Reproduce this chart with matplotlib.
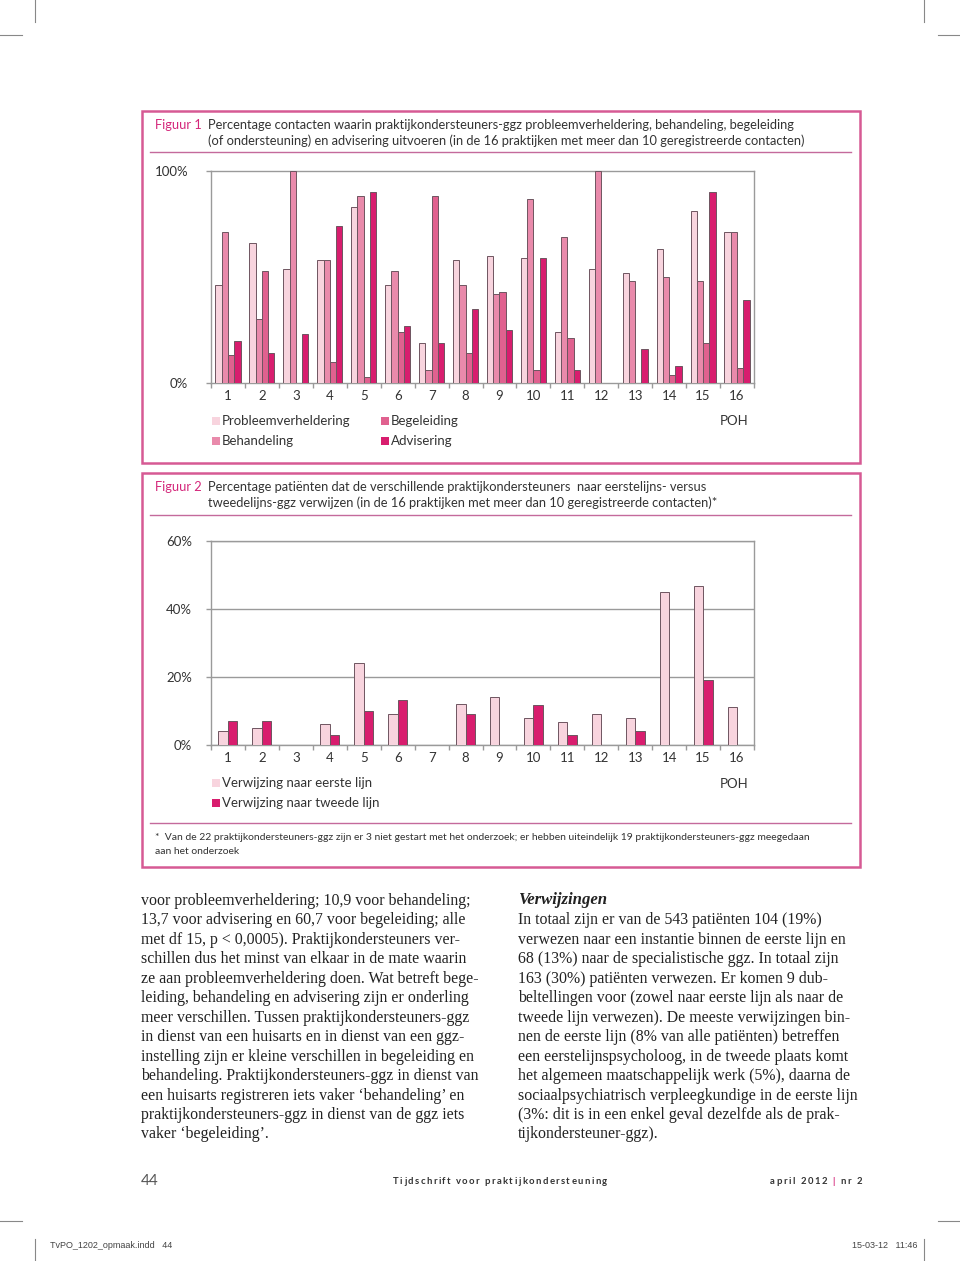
import matplotlib
matplotlib.use('Agg')
import matplotlib.pyplot as plt
from matplotlib.patches import Rectangle
from matplotlib.lines import Line2D
import numpy as np

# ---------------- data ----------------
practices = [str(i) for i in range(1, 17)]
series1_names = ['Probleemverheldering', 'Behandeling', 'Begeleiding', 'Advisering']
probleem = [46, 66, 54, 58, 83, 46, 19, 58, 60, 59, 24, 54, 52, 63, 81, 71]
behandeling = [71, 30, 100, 58, 88, 53, 6, 46, 42, 87, 69, 100, 48, 50, 48, 71]
begeleiding = [13, 53, 0, 10, 3, 24, 88, 14, 43, 6, 21, 0, 0, 4, 19, 7]
advisering = [20, 14, 23, 74, 90, 27, 19, 35, 25, 59, 6, 0, 16, 8, 90, 39]
y1_ticks = [0, 100]
y1_labels = ['0%', '100%']

series2_names = ['Verwijzing naar eerste lijn', 'Verwijzing naar tweede lijn']
eerste = [4.2, 4.9, 0, 6.1, 24.0, 9.1, 0, 12.1, 14.0, 7.9, 6.9, 9.1, 7.9, 44.9, 46.9, 11.1]
tweede = [7.0, 7.0, 0, 3.0, 10.0, 13.1, 0, 9.1, 0, 11.9, 3.0, 0, 4.1, 0, 19.1, 0]
y2_ticks = [0, 20, 40, 60]
y2_labels = ['0%', '20%', '40%', '60%']

fig1_title = ['Percentage contacten waarin praktijkondersteuners-ggz probleemverheldering, behandeling, begeleiding',
              '(of ondersteuning) en advisering uitvoeren (in de 16 praktijken met meer dan 10 geregistreerde contacten)']
fig2_title = ['Percentage patiënten dat de verschillende praktijkondersteuners  naar eerstelijns- versus',
              'tweedelijns-ggz verwijzen (in de 16 praktijken met meer dan 10 geregistreerde contacten)*']
footnote = ['*  Van de 22 praktijkondersteuners-ggz zijn er 3 niet gestart met het onderzoek; er hebben uiteindelijk 19 praktijkondersteuners-ggz meegedaan',
            'aan het onderzoek']
left_col = ['voor probleemverheldering; 10,9 voor behandeling;',
            '13,7 voor advisering en 60,7 voor begeleiding; alle',
            'met df 15, p < 0,0005). Praktijkondersteuners ver-',
            'schillen dus het minst van elkaar in de mate waarin',
            'ze aan probleemverheldering doen. Wat betreft bege-',
            'leiding, behandeling en advisering zijn er onderling',
            'meer verschillen. Tussen praktijkondersteuners-ggz',
            'in dienst van een huisarts en in dienst van een ggz-',
            'instelling zijn er kleine verschillen in begeleiding en',
            'behandeling. Praktijkondersteuners-ggz in dienst van',
            'een huisarts registreren iets vaker ‘behandeling’ en',
            'praktijkondersteuners-ggz in dienst van de ggz iets',
            'vaker ‘begeleiding’.']
right_head = 'Verwijzingen'
right_col = ['In totaal zijn er van de 543 patiënten 104 (19%)',
             'verwezen naar een instantie binnen de eerste lijn en',
             '68 (13%) naar de specialistische ggz. In totaal zijn',
             '163 (30%) patiënten verwezen. Er komen 9 dub-',
             'beltellingen voor (zowel naar eerste lijn als naar de',
             'tweede lijn verwezen). De meeste verwijzingen bin-',
             'nen de eerste lijn (8% van alle patiënten) betreffen',
             'een eerstelijnspsycholoog, in de tweede plaats komt',
             'het algemeen maatschappelijk werk (5%), daarna de',
             'sociaalpsychiatrisch verpleegkundige in de eerste lijn',
             '(3%: dit is in een enkel geval dezelfde als de prak-',
             'tijkondersteuner-ggz).']
foot_title = 'Tijdschrift voor praktijkondersteuning'
foot_issue = ['april 2012 ', '|', ' nr 2']

# ---------------- styling ----------------
W, H = 960, 1261
SANS = 'Lato'
SERIF = 'Liberation Serif'
MAGENTA = '#d4267a'
BORDER = '#d65a94'
RULE = '#c46a9c'
c_prob, c_beh, c_beg, c_adv = '#f8d4de', '#e98aab', '#e0618f', '#d81d6e'
EDGE = '#6e5560'
AXC = '#9a9a9a'
TXT = '#333333'

fig = plt.figure(figsize=(W / 100, H / 100), dpi=100)
fig.patch.set_facecolor('white')

def fx(x):
    return x / W

def fy(y):
    return 1 - y / H

renderer = fig.canvas.get_renderer()

def text_w(text, family, size, **kw):
    t = fig.text(0, 0, text, fontsize=size, family=family, **kw)
    w = t.get_window_extent(renderer).width
    t.remove()
    return w

def fit_size(text, family, target_px, base=10, **kw):
    return base * target_px / text_w(text, family, base, **kw)

def spaced_text(x0, x1, y, parts, family, size, **kw):
    """Draw letter-spaced text (list of (string, color)) filling x0..x1."""
    chars = [(ch, col) for s, col in parts for ch in s]
    full = ''.join(c for c, _ in chars)
    total = text_w(full, family, size, **kw)
    gap = (x1 - x0 - total) / (len(chars) - 1)
    for k, (c, col) in enumerate(chars):
        if c == ' ':
            continue
        left = text_w(full[:k + 1], family, size, **kw) - text_w(c, family, size, **kw)
        fig.text(fx(x0 + left + k * gap), fy(y), c, fontsize=size, family=family,
                 color=col, va='center', **kw)

def line(x0, y0, x1, y1, color, lw=1.0):
    fig.add_artist(Line2D([fx(x0), fx(x1)], [fy(y0), fy(y1)], transform=fig.transFigure,
                          color=color, lw=lw))

def box(x0, y0, x1, y1, color, lw=1.8):
    fig.add_artist(Rectangle((fx(x0), fy(y1)), (x1 - x0) / W, (y1 - y0) / H,
                             transform=fig.transFigure, fill=False, ec=color, lw=lw))

def square(x, y, size, color):
    fig.add_artist(Rectangle((fx(x), fy(y + size / 2)), size / W, size / H,
                             transform=fig.transFigure, fc=color, ec='none'))

# ---------------- crop marks ----------------
CM = '#888888'
for x in (35, 924):
    line(x, 0, x, 22, CM, 0.8)
    line(x, 1239, x, 1261, CM, 0.8)
for (a, b) in ((0, 22), (938, 960)):
    line(a, 35, b, 35, CM, 0.8)
    line(a, 1221, b, 1221, CM, 0.8)

# ---------------- frames ----------------
box(142, 111, 860, 463, BORDER)
box(142, 473, 860, 867, BORDER)
line(150, 152, 851, 152, RULE, 1.0)
line(150, 515, 851, 515, RULE, 1.0)
line(150, 823, 851, 823, RULE, 1.0)

title_fs = fit_size(fig1_title[0], SANS, 591)
fig.text(fx(155), fy(125), 'Figuur 1', color=MAGENTA, fontsize=title_fs, family=SANS, va='center')
fig.text(fx(208), fy(125), fig1_title[0], color=TXT, fontsize=title_fs, family=SANS, va='center')
fig.text(fx(208), fy(141), fig1_title[1], color=TXT, fontsize=title_fs, family=SANS, va='center')
fig.text(fx(155), fy(487), 'Figuur 2', color=MAGENTA, fontsize=title_fs, family=SANS, va='center')
fig.text(fx(208), fy(487), fig2_title[0], color=TXT, fontsize=title_fs, family=SANS, va='center')
fig.text(fx(208), fy(503), fig2_title[1], color=TXT, fontsize=title_fs, family=SANS, va='center')

fn_fs = fit_size(footnote[0], SANS, 657)
fig.text(fx(155), fy(838), footnote[0], color=TXT, fontsize=fn_fs, family=SANS, va='center')
fig.text(fx(155), fy(851), footnote[1], color=TXT, fontsize=fn_fs, family=SANS, va='center')

TICK_FS = 9.5

def style_axes(ax, yticks, ylabels, ypad):
    for s in ax.spines.values():
        s.set_color(AXC)
        s.set_linewidth(1.0)
    ax.set_xlim(0.5, 16.5)
    ax.set_yticks(yticks)
    ax.set_yticklabels(ylabels, family=SANS, fontsize=TICK_FS, color=TXT)
    ax.tick_params(axis='y', length=3.5, width=1, color=AXC, pad=ypad)
    ax.set_xticks(np.arange(0.5, 17, 1))
    ax.set_xticklabels([])
    ax.tick_params(axis='x', which='major', length=3.5, width=1, color=AXC)
    ax.set_xticks(np.arange(1, 17), minor=True)
    ax.set_xticklabels(practices, minor=True, family=SANS, fontsize=TICK_FS, color=TXT)
    ax.tick_params(axis='x', which='minor', length=0, pad=5)

# ---------------- chart 1 ----------------
ax1 = fig.add_axes([fx(211), fy(383), (754 - 211) / W, (383 - 171) / H])
x = np.arange(1, 17)
bw = 0.185
for i, (vals, col) in enumerate(zip([probleem, behandeling, begeleiding, advisering],
                                    [c_prob, c_beh, c_beg, c_adv])):
    v = np.array(vals, dtype=float)
    m = v > 0
    ax1.bar(x[m] + (i - 1.5) * bw, v[m], width=bw, color=col, edgecolor=EDGE, linewidth=0.7, zorder=3)
ax1.set_ylim(0, 100)
style_axes(ax1, y1_ticks, y1_labels, 13)

leg_pos = [(212, 421), (212, 441), (381, 421), (381, 441)]
for (lx, ly), name, col in zip(leg_pos, series1_names, [c_prob, c_beh, c_beg, c_adv]):
    square(lx, ly, 8, col)
    fig.text(fx(lx + 10), fy(ly), name, fontsize=TICK_FS, family=SANS, color=TXT, va='center')
fig.text(fx(734), fy(421), 'POH', fontsize=TICK_FS, family=SANS, color=TXT, va='center', ha='center')

# ---------------- chart 2 ----------------
ax2 = fig.add_axes([fx(211), fy(745), (754 - 211) / W, (745 - 541) / H])
bw2 = 0.28
for i, (vals, col) in enumerate(zip([eerste, tweede], [c_prob, c_adv])):
    v = np.array(vals, dtype=float)
    m = v > 0
    ax2.bar(x[m] + (i - 0.5) * bw2, v[m], width=bw2, color=col, edgecolor=EDGE, linewidth=0.7, zorder=3)
ax2.set_ylim(0, 60)
ax2.yaxis.grid(True, color=AXC, lw=1.0)
ax2.set_axisbelow(True)
style_axes(ax2, y2_ticks, y2_labels, 10)

for ly, name, col in zip([783, 803], series2_names, [c_prob, c_adv]):
    square(212, ly, 8, col)
    fig.text(fx(222), fy(ly), name, fontsize=TICK_FS, family=SANS, color=TXT, va='center')
fig.text(fx(734), fy(784), 'POH', fontsize=TICK_FS, family=SANS, color=TXT, va='center', ha='center')

# ---------------- body text ----------------
body_fs = (fit_size(left_col[0], SERIF, 325) + fit_size(right_col[0], SERIF, 310)) / 2
for k, s in enumerate(left_col):
    fig.text(fx(141), fy(901 + k * 19.45), s, fontsize=body_fs, family=SERIF, color='#222222', va='center')
fig.text(fx(518), fy(900), right_head, fontsize=body_fs * 1.05, family=SERIF, weight='bold',
         style='italic', color='#222222', va='center')
for k, s in enumerate(right_col):
    fig.text(fx(518), fy(920.5 + k * 19.45), s, fontsize=body_fs, family=SERIF, color='#222222', va='center')

# ---------------- footer ----------------
fig.text(fx(141), fy(1181), '44', fontsize=11, family=SANS, color='#555555', va='center')
spaced_text(393, 607, 1181, [(foot_title, '#333333')], SANS, 6.8, weight='bold')
spaced_text(770, 862, 1181, [(foot_issue[0], '#333333'), (foot_issue[1], MAGENTA), (foot_issue[2], '#333333')],
            SANS, 6.8, weight='bold')

fig.text(fx(50), fy(1245), 'TvPO_1202_opmaak.indd   44', fontsize=6.5, family='Liberation Sans', color='#444444', va='center')
fig.text(fx(918), fy(1245), '15-03-12   11:46', fontsize=6.5, family='Liberation Sans', color='#444444', va='center', ha='right')

fig.savefig('out.png', dpi=100)
